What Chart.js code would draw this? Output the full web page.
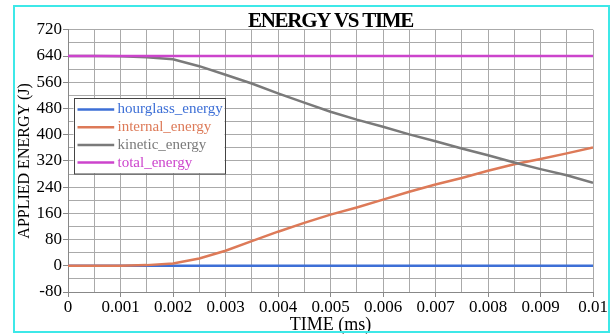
<!DOCTYPE html>
<html><head><meta charset="utf-8">
<script src="https://cdn.jsdelivr.net/npm/chart.js@4"></script>
<style>
html,body{margin:0;padding:0;background:#fff;}
#wrap{position:relative;width:616px;height:334px;overflow:hidden;}
#frame{position:absolute;left:13px;top:5px;width:597px;height:328px;border:2px solid #3de8e8;box-sizing:border-box;pointer-events:none;}
canvas{position:absolute;left:0;top:0;}
</style></head><body>
<div id="wrap"><canvas id="c" width="616" height="334"></canvas><div id="frame"></div></div>
<script>
// ---- data (time in ms, energy in J) ----
const timeMs = [0,0.0005,0.001,0.0015,0.002,0.0025,0.003,0.0035,0.004,0.0045,0.005,0.0055,0.006,0.0065,0.007,0.0075,0.008,0.0085,0.009,0.0095,0.01];
const hourglassEnergy = [0,0,0,0,0,0,0,0,0,0,0,0,0,0,0,0,0,0,0,0,0];
const internalEnergy  = [0,0,0,2,7,22,46,75,104,131,156,178,202,226,248,268,290,310,326,343,361];
const kineticEnergy   = [640,640,639,636,630,609,583,556,526,498,470,446,424,401,380,358,337,315,295,276,253];
const totalEnergy     = [640,640,640,640,640,640,640,640,640,640,640,640,640,640,640,640,640,640,640,640,640];
const seriesNames  = ['hourglass_energy','internal_energy','kinetic_energy','total_energy'];
const seriesValues = [hourglassEnergy, internalEnergy, kineticEnergy, totalEnergy];
const seriesColors = ['#3d6fd6','#dd7a58','#7a7a7a','#cc44cc'];
const chartTitle = 'ENERGY VS TIME';
const xTitle = 'TIME (ms)';
const yTitle = 'APPLIED ENERGY (J)';

const FONT = 'Liberation Serif';

const datasets = seriesNames.map((n,i)=>({
  label:n,
  data: timeMs.map((t,j)=>({x:t,y:seriesValues[i][j]})),
  borderColor: seriesColors[i],
  backgroundColor: seriesColors[i],
  borderWidth: 2.5,
  pointRadius: 0,
  tension: 0,
  fill: false,
  order: 3-i
}));

const boxLegend = {
  id:'boxLegend',
  afterDatasetsDraw(chart){
    const {ctx, chartArea:a} = chart;
    const L = a.left + 5.5, T = a.top + 68, W = 151, H = 75.5;
    ctx.save();
    ctx.fillStyle = '#fff';
    ctx.fillRect(L, T, W, H);
    ctx.strokeStyle = '#444';
    ctx.lineWidth = 1;
    ctx.strokeRect(Math.round(L)+0.5, Math.round(T)+0.5, W, H);
    ctx.font = '15px "' + FONT + '"';
    ctx.textBaseline = 'middle';
    ctx.textAlign = 'left';
    chart.data.datasets.forEach((ds,i)=>{
      const y = T + 11.7 + i*17.7;
      ctx.strokeStyle = ds.borderColor;
      ctx.lineWidth = 2.5;
      ctx.beginPath(); ctx.moveTo(L+4, y); ctx.lineTo(L+40.7, y); ctx.stroke();
      ctx.fillStyle = ds.borderColor;
      ctx.fillText(ds.label, L+44, y);
    });
    ctx.restore();
  }
};

const chart = new Chart(document.getElementById('c'), {
  type:'line',
  data:{datasets},
  plugins:[boxLegend],
  options:{
    responsive:false, animation:false,
    layout:{padding:{left:10,right:23,top:4,bottom:0}},
    plugins:{
      legend:{display:false},
      tooltip:{enabled:false},
      title:{display:true, text:chartTitle, fullSize:false, color:'#000',
        font:{family:FONT,size:21,weight:'bold',lineHeight:0.8}, padding:{top:9,bottom:0}}
    },
    scales:{
      x:{type:'linear', min:0, max:0.01,
        ticks:{stepSize:0.0005, autoSkip:false, maxRotation:0, minRotation:0, padding:0, color:'#000',
          font:{family:FONT,size:17},
          callback:(v)=>{const k=Math.round(v/0.0005); if(k%2) return ''; const r=k/2000; return r===0?'0':String(parseFloat(r.toFixed(3)));}},
        grid:{color:'#aaaaaa', lineWidth:1, tickLength:5,
          tickColor:(c)=>{const v=c.tick?c.tick.value:0; return Math.round(v/0.0005)%2===0?'#888':'rgba(0,0,0,0)';}},
        border:{color:'#888'},
        title:{display:true, text:xTitle, color:'#000', font:{family:FONT,size:18,lineHeight:1}, padding:0},
        afterFit:(s)=>{s.height=42;}
      },
      y:{min:-80, max:720,
        ticks:{stepSize:40, autoSkip:false, padding:1, color:'#000', font:{family:FONT,size:17},
          callback:(v)=> (Math.round(v)%80===0 ? String(Math.round(v)) : '')},
        grid:{color:'#aaaaaa', lineWidth:1, tickLength:5,
          tickColor:(c)=>{const v=c.tick?c.tick.value:0; return Math.round(v)%80===0?'#888':'rgba(0,0,0,0)';}},
        border:{color:'#888'},
        title:{display:true, text:yTitle, color:'#000', font:{family:FONT,size:16,lineHeight:1.2}, padding:{top:5,bottom:0}},
        afterFit:(s)=>{s.width=58;}
      }
    }
  }
});
// tighten the title's letter spacing (condensed heading look)
if (chart.titleBlock) {
  const tb = chart.titleBlock;
  const origDraw = tb.draw.bind(tb);
  tb.draw = function(){
    const ctx = chart.ctx;
    ctx.save();
    if ('letterSpacing' in ctx) ctx.letterSpacing = '-1.3px';
    origDraw();
    ctx.restore();
  };
  chart.draw();
}
</script>
</body></html>
